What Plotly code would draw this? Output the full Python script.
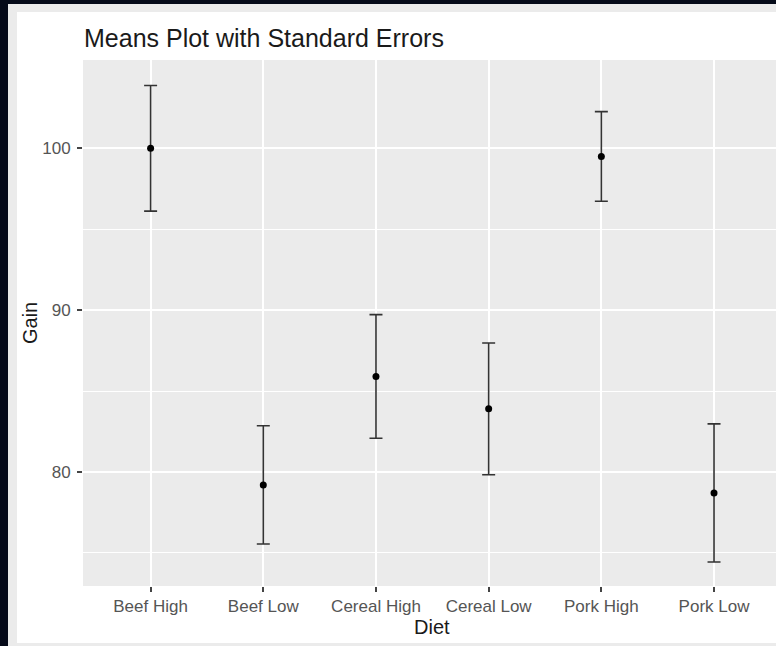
import plotly.graph_objects as go

diets = ["Beef High", "Beef Low", "Cereal High", "Cereal Low", "Pork High", "Pork Low"]
mean_gain = [100.0, 79.2, 85.9, 83.9, 99.5, 78.7]
se_gain = [3.88, 3.65, 3.82, 4.07, 2.77, 4.27]

W, H = 776, 646
L, R, T, B = 83, 0, 60, 60
PW, PH = W - L - R, H - T - B


def px_x(px):
    return (px - L) / PW


def px_y(py):
    return (H - B - py) / PH


fig = go.Figure()
fig.add_trace(go.Scatter(
    x=diets, y=mean_gain, mode="markers",
    marker=dict(color="black", size=7),
    error_y=dict(type="data", array=se_gain, visible=True,
                 color="#333333", thickness=1.6, width=6.5),
    showlegend=False, hoverinfo="x+y",
))

shapes = [
    dict(type="rect", xref="paper", yref="paper", layer="below",
         x0=px_x(8), x1=px_x(W + 5), y0=px_y(4), y1=px_y(H + 5),
         fillcolor="#ebebeb", line=dict(width=0)),
    dict(type="rect", xref="paper", yref="paper", layer="below",
         x0=px_x(17), x1=px_x(W + 5), y0=px_y(12), y1=px_y(643),
         fillcolor="#ffffff", line=dict(width=0)),
    dict(type="rect", xref="paper", yref="paper", layer="below",
         x0=0, x1=1, y0=0, y1=1,
         fillcolor="#ebebeb", line=dict(width=0)),
]

annotations = [
    dict(text="Means Plot with Standard Errors", xref="paper", yref="paper",
         x=px_x(82), y=px_y(38), xanchor="left", yanchor="middle",
         showarrow=False, font=dict(family="Liberation Sans", size=25, color="#1a1a1a")),
    dict(text="Diet", xref="paper", yref="paper",
         x=px_x(432), y=px_y(627), xanchor="center", yanchor="middle",
         showarrow=False, font=dict(family="Liberation Sans", size=20, color="#1a1a1a")),
    dict(text="Gain", xref="paper", yref="paper",
         x=px_x(30), y=px_y(323), xanchor="center", yanchor="middle", textangle=-90,
         showarrow=False, font=dict(family="Liberation Sans", size=20, color="#1a1a1a")),
]

fig.update_layout(
    width=W, height=H,
    margin=dict(l=L, r=R, t=T, b=B, pad=0),
    paper_bgcolor="#050a19",
    plot_bgcolor="rgba(0,0,0,0)",
    shapes=shapes,
    annotations=annotations,
    font=dict(family="Liberation Sans"),
    xaxis=dict(
        type="category", categoryorder="array", categoryarray=diets,
        range=[-0.6, 5.55], showgrid=True, gridcolor="white", gridwidth=2,
        zeroline=False, showline=False,
        ticks="outside", ticklen=5, tickwidth=1.5, tickcolor="#444444",
        tickfont=dict(family="Liberation Sans", size=17, color="#555555"),
        fixedrange=True,
    ),
    yaxis=dict(
        range=[72.95, 105.46], tickvals=[80, 90, 100],
        showgrid=True, gridcolor="white", gridwidth=2,
        minor=dict(tickvals=[75, 85, 95], showgrid=True, gridcolor="white", gridwidth=1),
        zeroline=False, showline=False,
        ticks="outside", ticklen=5, tickwidth=1.5, tickcolor="#444444",
        ticklabelstandoff=3,
        tickfont=dict(family="Liberation Sans", size=17, color="#555555"),
        fixedrange=True,
    ),
)

fig.write_html("out.html", config={"displayModeBar": False})
